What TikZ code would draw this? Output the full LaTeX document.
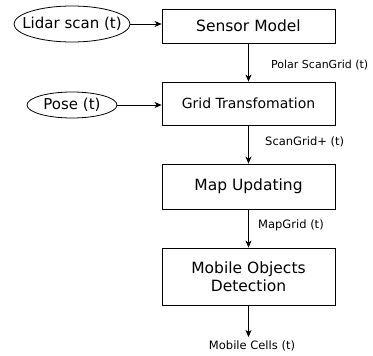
\documentclass[tikz,border=0pt]{standalone}
\usepackage{fontspec}
\setmainfont{DejaVu Sans}
\usetikzlibrary{
    arrows.meta,
    shapes.geometric,
    positioning
}

\begin{document}
\begin{tikzpicture}[x=1pt, y=-1pt,
    block/.style={draw, line width=0.8pt, minimum width=173pt, inner sep=0pt, align=center, font=\fontsize{15.5}{18}\selectfont},
    source/.style={draw, ellipse, line width=0.8pt, inner xsep=-9pt, inner ysep=0pt, font=\fontsize{15}{18}\selectfont},
    lbl/.style={inner sep=0pt, font=\fontsize{11.5}{14}\selectfont},
    every edge/.style={draw, line width=0.8pt, -{Stealth[length=7pt, width=6pt, inset=2pt]}}]
    \useasboundingbox (0, 0) rectangle (373, 356);
    \node[source, minimum width=116pt, minimum height=36pt] (lidar) at (72, 24) {Lidar scan (t)};
    \node[source, minimum width=90pt, minimum height=26pt] (pose) at (72, 105) {Pose (t)};
    \node[block, minimum height=34pt] (sensor) at (248.5, 26) {Sensor Model};
    \node[block, minimum height=43pt, font=\fontsize{14}{17}\selectfont] (grid) at (248.5, 103.5) {Grid Transfomation};
    \node[block, minimum height=45pt] (map) at (248.5, 186.5) {Map Updating};
    \node[block, minimum height=57pt] (mobile) at (248.5, 276.5) {Mobile Objects\\Detection};
    \coordinate (out) at (248.5, 337);
    \node[lbl, anchor=west, font=\fontsize{11}{14}\selectfont] (polar) at (271, 65) {Polar ScanGrid (t)};
    \node[lbl, anchor=west] (scanplus) at (265, 142) {ScanGrid+ (t)};
    \node[lbl, anchor=west] (mapgrid) at (258, 225) {MapGrid (t)};
    \node[lbl, anchor=north] (cells) at (252, 341) {Mobile Cells (t)};
    \draw
    (lidar.east) edge (lidar.east -| sensor.west)
    (pose.east) edge (pose.east -| grid.west)
    (sensor) edge (grid)
    (grid) edge (map)
    (map) edge (mobile)
    (mobile) edge (out);
\end{tikzpicture}
\end{document}
